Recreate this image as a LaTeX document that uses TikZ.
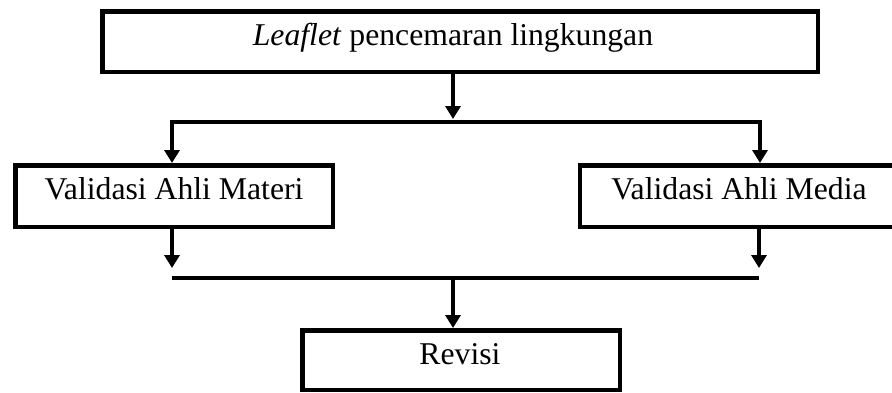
\documentclass[tikz,border=0pt]{standalone}
\usepackage{fontspec}
\setmainfont{Liberation Serif}
\usetikzlibrary{arrows.meta}
\begin{document}
\begin{tikzpicture}[x=1pt,y=-1pt,
  box/.style={draw=black,line width=4.5pt,inner sep=0pt,fill=none},
  txt/.style={inner sep=0pt,font=\fontsize{31.7}{38}\selectfont,text height=0.66em,text depth=0pt},
  line/.style={draw=black,line width=4pt},
  arr/.style={line,-{Triangle[width=15pt,length=13pt]}},
  arr2/.style={line,{Triangle[width=15pt,length=13pt]}-{Triangle[width=15pt,length=13pt]},line join=miter}]
\useasboundingbox (0,0) rectangle (892,392);
\clip (0,0) rectangle (892,392);
% boxes
\node[box,minimum width=715.5pt,minimum height=60.5pt] (top) at (460,41.5) {};
\node[txt] (toptext) at (453,42) {\textit{Leaflet} pencemaran lingkungan};
\node[box,txt,minimum width=317.5pt,minimum height=61.5pt] (matl) at (174,196) {Validasi Ahli Materi};
\node[box,minimum width=319.75pt,minimum height=61.5pt] (med) at (740,196) {};
\node[txt] (medtext) at (739,196) {Validasi Ahli Media};
\node[box,minimum width=317.5pt,minimum height=59.5pt] (rev) at (461,360) {};
\node[txt] (revtext) at (460,361) {Revisi};
% connector coordinates
\coordinate (split) at (453,122);
\coordinate (bl) at (172,122);
\coordinate (br) at (760,122);
\coordinate (jl) at (172,278);
\coordinate (jr) at (759,278);
\coordinate (jm) at (453,278);
% top connectors
\draw[arr,shorten >=3pt] (top.south -| split) -- (split);
\draw[arr2] (bl |- matl.north) -- (bl) -- (br) -- (br |- med.north);
% bottom connectors
\draw[arr,shorten >=10pt] (matl.south -| jl) -- (jl);
\draw[arr,shorten >=10pt] (med.south -| jr) -- (jr);
\draw[line] (jl) -- (jr);
\draw[arr] (jm) -- (rev.north -| jm);
\end{tikzpicture}
\end{document}
